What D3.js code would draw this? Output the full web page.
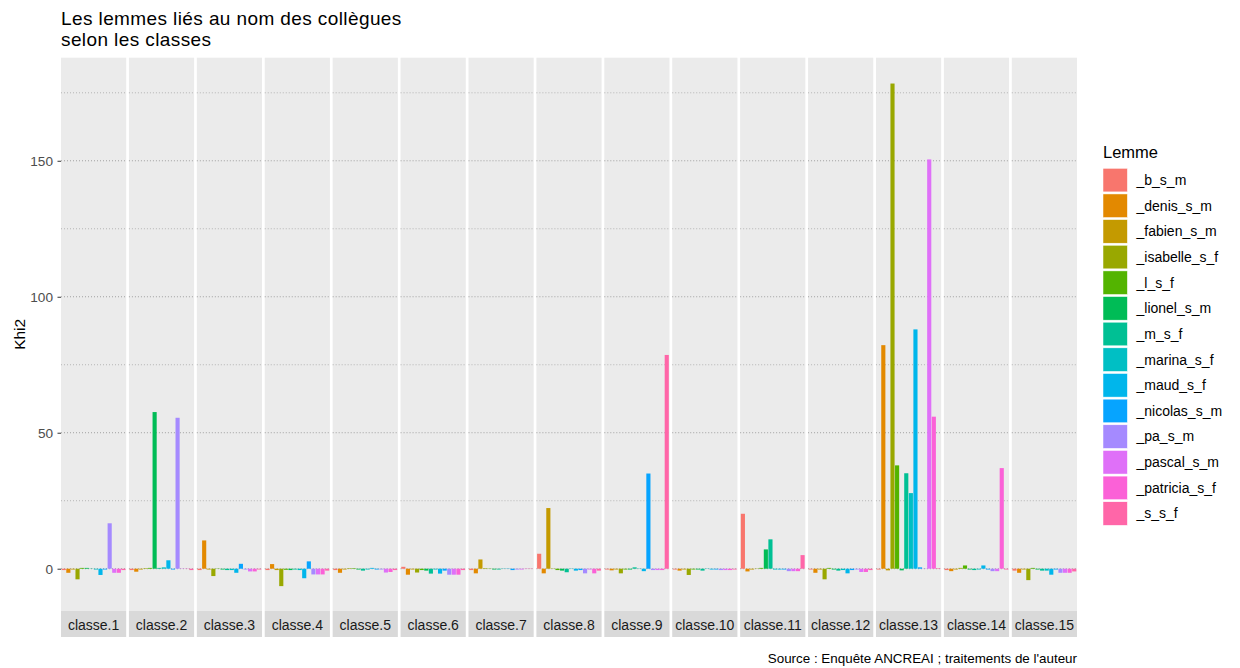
<!DOCTYPE html>
<html>
<head>
<meta charset="utf-8">
<script src="https://cdn.jsdelivr.net/npm/d3@7"></script>
<style>
  html, body { margin: 0; padding: 0; background: #ffffff; }
  svg { display: block; font-family: "Liberation Sans", Arial, sans-serif; }
</style>
</head>
<body>
<svg id="chart" width="1240" height="668"></svg>
<script>
// ---------- data ----------
const classes = ["classe.1","classe.2","classe.3","classe.4","classe.5","classe.6","classe.7","classe.8",
                 "classe.9","classe.10","classe.11","classe.12","classe.13","classe.14","classe.15"];
const lemmas = ["_b_s_m","_denis_s_m","_fabien_s_m","_isabelle_s_f","_l_s_f","_lionel_s_m","_m_s_f",
                "_marina_s_f","_maud_s_f","_nicolas_s_m","_pa_s_m","_pascal_s_m","_patricia_s_f","_s_s_f"];
const lemmaColors = ["#F8766D","#E38900","#C49A00","#99A800","#53B400","#00BC56","#00C094",
                     "#00BFC4","#00B6EB","#06A4FF","#A58AFF","#DF70F8","#FB61D7","#FF66A8"];
// Khi2 values: one row per classe, in the order of `lemmas`
const khi2 = [
  [-0.5,-1.5,-0.3,-3.9, 0.3, 0.3, 0.1,-0.3,-2.3,-0.3,16.7,-1.5,-1.5,-0.5], // classe.1
  [-0.5,-1.1,-0.3, 0.2, 0.3,57.6, 0.3, 0.5, 3.1,-0.3,55.5, 0.1, 0.1,-0.5], // classe.2
  [-0.5,10.4,-0.3,-2.7, 0.1,-0.3,-0.5,-0.5,-1.5, 1.8,-0.3,-1.0,-1.0,-0.3], // classe.3
  [-0.5, 1.7,-0.5,-6.4,-0.4,-0.5,-0.3,-0.5,-3.5, 2.7,-2.1,-2.1,-2.1,-0.7], // classe.4
  [-0.5,-1.5,-0.3, 0.2, 0.2,-0.3,-0.7,-0.3, 0.3,-0.3,-0.3,-1.4,-1.2,-0.5], // classe.5
  [ 0.7,-2.2,-0.3,-1.4,-0.5,-0.7,-1.8,-0.3,-1.8,-0.7,-2.2,-2.2,-2.2,-0.5], // classe.6
  [-0.5,-1.7, 3.4, 0.2, 0.1,-0.3,-0.3, 0.1, 0.1,-0.5,-0.3,-0.3, 0.1, 0.1], // classe.7
  [ 5.5,-1.7,22.3, 0.1,-0.5,-0.7,-1.3, 0.1,-0.7,-0.5,-1.7,-0.3,-1.7,-0.7], // classe.8
  [-0.3,-0.6,-0.3,-1.7,-0.3,-0.3, 0.5, 0.1,-0.9,35.0,-0.5,-0.5,-0.5,78.6], // classe.9
  [-0.3,-0.7,-0.3,-2.3,-0.3,-0.3,-0.7, 0.1,-0.3,-0.3,-0.5,-0.5,-0.5,-0.3], // classe.10
  [20.2,-1.0,-0.3, 0.1, 0.3, 7.1,10.8,-0.3,-0.3,-0.3,-0.9,-0.9,-0.9, 5.0], // classe.11
  [-0.3,-1.5,-0.3,-3.9, 0.3,-0.3,-0.7,-0.5,-1.7,-0.5,-0.3,-1.2,-1.2,-0.5], // classe.12
  [-0.3,82.2,-0.6,178.4,38.0,-0.6,35.1,27.8,88.0, 0.5, 0.1,150.5,55.9, 0.2], // classe.13
  [-0.5,-0.9,-0.3, 0.3, 1.2,-0.3,-0.5,-0.3, 1.2,-0.3,-0.9,-0.9,37.0,-0.3], // classe.14
  [-0.7,-1.5,-0.3,-4.2, 0.3,-0.3,-0.7,-0.7,-2.2,-0.3,-1.5,-1.5,-1.5,-1.0]  // classe.15
];
const yTicks = [0, 50, 100, 150];
const yMinorTicks = [25, 75, 125, 175];
const titleLines = ["Les lemmes liés au nom des collègues", "selon les classes"];
const yLabel = "Khi2";
const legendTitle = "Lemme";
const caption = "Source : Enquête ANCREAI ; traitements de l'auteur";

// ---------- layout ----------
const svg = d3.select("#chart");
const panelTop = 57.7, panelBottom = 611, stripBottom = 637;
const plotLeft = 61, plotRight = 1077;

const y = d3.scaleLinear().domain([-15.55, 187.9]).range([panelBottom, panelTop]);
const facetX = d3.scaleBand().domain(classes).range([plotLeft, plotRight]).paddingInner(0.04);
const color = d3.scaleOrdinal().domain(lemmas).range(lemmaColors);

// title
svg.append("g").selectAll("text").data(titleLines).join("text")
  .attr("x", plotLeft).attr("y", (d, i) => 25 + i * 21.4)
  .attr("font-size", 19).attr("letter-spacing", 0.4).attr("fill", "#000").text(d => d);

// panels
classes.forEach((cls, ci) => {
  const x0 = facetX(cls), w = facetX.bandwidth();
  const g = svg.append("g");
  g.append("rect").attr("x", x0).attr("y", panelTop).attr("width", w)
    .attr("height", panelBottom - panelTop).attr("fill", "#EBEBEB");
  // grid lines
  g.selectAll("line.minor").data(yMinorTicks).join("line")
    .attr("x1", x0).attr("x2", x0 + w).attr("y1", d => y(d)).attr("y2", d => y(d))
    .attr("stroke", "#AFAFAF").attr("stroke-width", 0.9).attr("stroke-dasharray", "1,2");
  g.selectAll("line.major").data(yTicks).join("line")
    .attr("x1", x0).attr("x2", x0 + w).attr("y1", d => y(d)).attr("y2", d => y(d))
    .attr("stroke", "#A0A0A0").attr("stroke-width", 1).attr("stroke-dasharray", "1,2");
  // bars
  const bx = d3.scaleBand().domain(lemmas).range([x0, x0 + w]).paddingInner(0.1).paddingOuter(0.15);
  g.selectAll("rect.bar").data(lemmas.map((l, li) => ({l, v: khi2[ci][li]}))).join("rect")
    .attr("class", "bar")
    .attr("x", d => bx(d.l)).attr("width", bx.bandwidth())
    .attr("y", d => Math.min(y(d.v), y(0)))
    .attr("height", d => Math.abs(y(d.v) - y(0)))
    .attr("fill", d => color(d.l));
  // strip
  g.append("rect").attr("x", x0).attr("y", panelBottom).attr("width", w)
    .attr("height", stripBottom - panelBottom).attr("fill", "#D9D9D9");
  g.append("text").attr("x", x0 + w / 2).attr("y", (panelBottom + stripBottom) / 2 + 1)
    .attr("dy", "0.35em").attr("text-anchor", "middle").attr("font-size", 14)
    .attr("fill", "#1A1A1A").text(cls);
});

// y axis
const yAxis = svg.append("g").attr("transform", `translate(${plotLeft},0)`)
  .call(d3.axisLeft(y).tickValues(yTicks).tickSize(3.5).tickPadding(4.5));
yAxis.select(".domain").remove();
yAxis.selectAll(".tick line").attr("stroke", "#333333");
yAxis.selectAll(".tick text").attr("fill", "#4D4D4D").attr("font-size", 13.6)
  .attr("font-family", "Liberation Sans, Arial, sans-serif");

svg.append("text").attr("transform", `translate(24.5,${(panelTop + panelBottom) / 2}) rotate(-90)`)
  .attr("text-anchor", "middle").attr("font-size", 15.5).attr("fill", "#000").text(yLabel);

// legend
const lg = svg.append("g").attr("transform", "translate(1103,0)");
lg.append("text").attr("x", 0).attr("y", 158).attr("font-size", 16.5).attr("fill", "#000").text(legendTitle);
const keyStep = 25.65, keyTop = 168.3;
const items = lg.selectAll("g.item").data(lemmas).join("g")
  .attr("transform", (d, i) => `translate(0,${keyTop + i * keyStep})`);
items.append("rect").attr("width", 24.4).attr("height", 23.6)
  .attr("fill", d => color(d)).attr("stroke", "#ffffff").attr("stroke-width", 0.5);
items.append("text").attr("x", 33.5).attr("y", 11.8).attr("dy", "0.35em")
  .attr("font-size", 14).attr("fill", "#000").text(d => d);

// caption
svg.append("text").attr("x", plotRight).attr("y", 663).attr("text-anchor", "end")
  .attr("font-size", 13.4).attr("fill", "#000").text(caption);
</script>
</body>
</html>
